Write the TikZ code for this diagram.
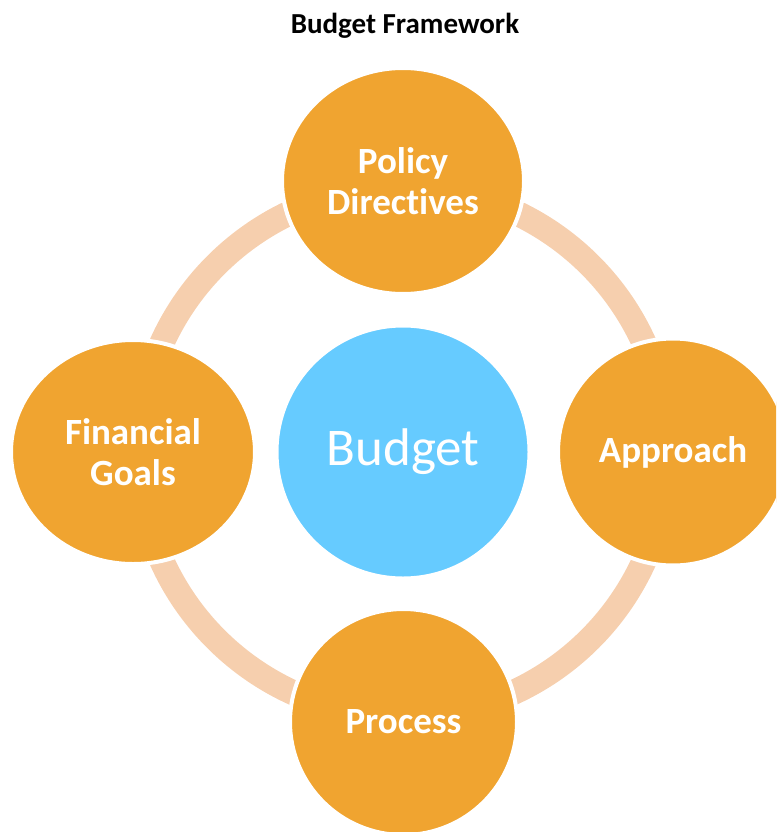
\documentclass[tikz,border=0pt]{standalone}
\usepackage{fontspec}
\setmainfont{Carlito}[Ligatures=NoCommon]
\usepackage{tikz}
\usetikzlibrary{shapes,positioning}
\definecolor{naranja}{RGB}{240,164,48}
\definecolor{celeste}{RGB}{102,203,255}
\definecolor{durazno}{RGB}{246,207,174}
\tikzstyle{bubble}=[ellipse, fill=naranja, draw=white,
                    line width=4pt, inner sep=0pt, text=white,
                    font=\bfseries\fontsize{37}{41}\selectfont,
                    align=center]
\tikzstyle{core}  =[circle, fill=celeste, draw=white,
                    line width=3pt, minimum size=252pt,
                    text=white, font=\fontsize{53}{60}\selectfont]
\tikzstyle{ring}  =[line width=25pt, durazno]

\begin{document}
\begin{tikzpicture}[x=1pt,y=-1pt]
    \useasboundingbox (0,0) rectangle (776,832);
    \clip (0,0) rectangle (776,832);

    \node[font=\bfseries\fontsize{29}{33}\selectfont] (title)
        at (405,26) {Budget Framework};

    \node[core] (budget) at (403,452) {Budget};
    \draw[ring] (budget.center) circle (264.5);

    \foreach \n/\x/\y/\w/\h/\t in
        {policy/403/181/242/226/{Policy\\Directives},
         approach/673/452/230/227/Approach,
         process/403.5/722/227/226/Process,
         goals/133/452/244/224/{Financial\\Goals}}
        \node[bubble, minimum width=\w, minimum height=\h]
            (\n) at (\x,\y) {\t};
\end{tikzpicture}
\end{document}
